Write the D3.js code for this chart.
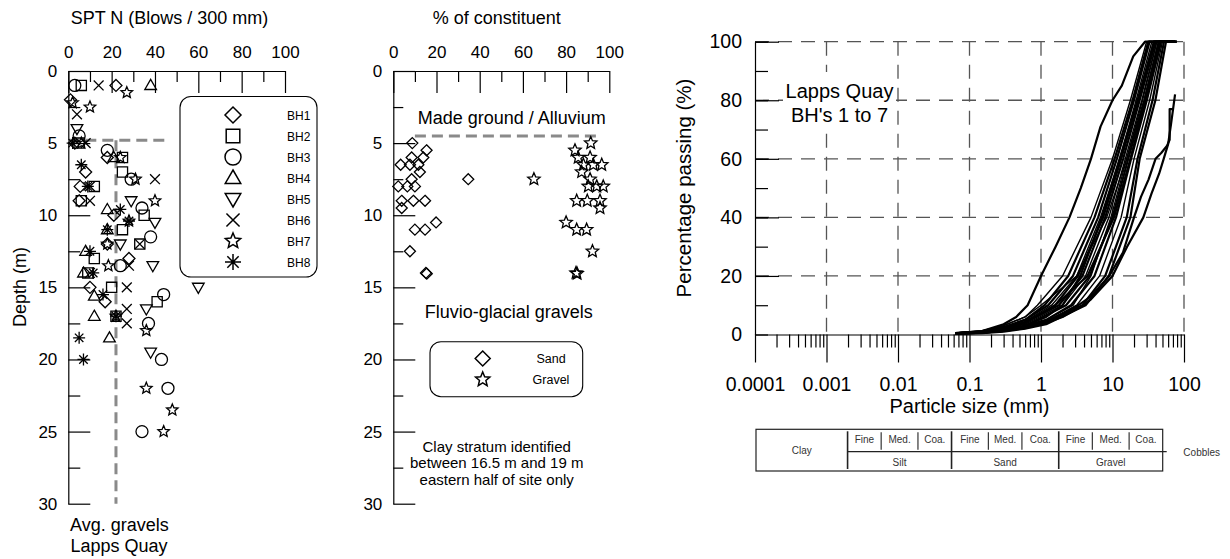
<!DOCTYPE html>
<html><head><meta charset="utf-8">
<script src="https://cdn.jsdelivr.net/npm/d3@7"></script>
<style>
body{margin:0;background:#fff}
svg{display:block}
text{font-family:"Liberation Sans",Arial,Helvetica,sans-serif;fill:#000}
</style>
</head><body>
<svg id="c" width="1230" height="559"></svg>
<script>
// ---------------- DATA ----------------
// Left panel: SPT N vs depth, [N, depth m]
const bhNames = ["BH1","BH2","BH3","BH4","BH5","BH6","BH7","BH8"];
const bh1 = [[22,1],[1,2],[3,5],[18,6],[8,7],[5.5,8],[5,9],[21,10],[18,12],[28,13],[10,15],[17,16]];
const bh2 = [[6,1],[5,5],[25,6],[25,7],[12,8],[6,9],[35,10],[25,11],[33,12],[12,13],[9,14],[20,15],[41,16],[22,17]];
const bh3 = [[3,1],[5,4.5],[18,5.5],[29,7.5],[34,9.5],[38,11.5],[24,13.5],[44,15.5],[37,17.5],[43,20],[46,22],[34,25]];
const bh4 = [[38,1],[21,6],[18,9.6],[18,11],[8,12.5],[7,14],[12,15.6],[12,17],[19,18.5]];
const bh5 = [[4,4],[29,9],[40,10.5],[24,12],[39,13.5],[60,15],[36,16.5],[38,19.5]];
const bh6 = [[14,1],[4,3],[8,5],[40,7.5],[10,8],[10,9],[33,12],[28,13.5],[10,14],[27,15],[27,16.5],[27,17.5]];
const bh7 = [[27,1.5],[2,2.2],[10,2.5],[6,5],[24,6],[31,7.5],[40,9],[28,10.4],[18,12],[18.5,13.5],[22,17],[36,18],[36,22],[48,23.5],[44,25]];
const bh8 = [[2,5],[6,6.5],[9,8],[24,9.6],[28,10.4],[18,11],[10,12.5],[11.5,14],[16,15.5],[22,17],[5,18.5],[7,20]];
const avgGravelN = 22;          // average SPT N in gravels
const avgTopDepthLeft = 4.8;    // top of gravels (left panel)
const avgTopDepthMid = 4.5;     // top of gravels (middle panel)

// Middle panel: % of constituent vs depth, [%, depth m]
const sand = [[8.8,5],[15.4,5.5],[8.5,6],[13.9,6],[3.4,6.5],[7.7,6.5],[11.6,6.5],[12.3,7],[8.5,7.5],[34.7,7.5],
  [2.3,8],[6.5,8],[10,8],[3.9,9],[9.3,9],[14.7,9],[3.9,9.5],[19.8,10.5],[10,11],[14.7,11],[7.7,12.5],[15.1,14],[15.5,14.05]];
const gravel = [[91.4,5],[84.1,5.5],[85.6,6],[91.1,6],[88,6.5],[92.6,6.5],[96.5,6.5],[87.2,7],[91.1,7.5],[65.1,7.5],
  [90.3,8],[94.2,8],[97.2,8],[84.9,9],[89.8,9],[95.7,9],[95.7,9.5],[80,10.5],[84.9,11],[89.5,11],[92.2,12.5],[84.6,14],[85.1,14.05]];
const midLegend = ["Sand","Gravel"];

// Right panel: grading curves, [particle size mm, % passing]
const curveA = [[0.063,0.5],[0.15,1.2],[0.3,3.5],[0.45,6],[0.65,10],[1.0,20],[1.6,30],[2.5,40],[3.6,50],[5.0,60],[6.8,71],[10,80],[13.5,85],[19.5,95],[28.5,100],[63,100]];
const g1  = [[0.063,0.5],[0.15,1.2],[0.3,3],[0.6,6],[0.89,10],[2.0,20],[5.0,40],[10,60],[17.8,80],[30,100],[63,100]];
const g2  = [[0.063,0.5],[0.15,1],[0.3,2.5],[0.6,5],[1.12,10],[2.4,20],[5.6,40],[10.7,60],[19.1,80],[31.6,100],[63,100]];
const g3  = [[0.063,0.4],[0.15,1],[0.3,2.5],[0.6,5],[1.26,10],[2.8,20],[6.3,40],[11.5,60],[20,80],[33,100],[70,100]];
const g4  = [[0.063,0.4],[0.15,0.9],[0.3,2],[0.6,4.5],[1.41,10],[3.16,20],[6.8,40],[12.6,60],[21.4,80],[35.5,100],[70,100]];
const g5  = [[0.063,0.4],[0.15,0.9],[0.3,2],[0.6,4],[1.58,10],[3.3,20],[7.4,40],[13.2,60],[22.9,80],[38,100],[70,100]];
const g6  = [[0.063,0.4],[0.15,0.8],[0.3,2],[0.6,4],[1.78,10],[3.8,20],[7.9,40],[14.1,60],[24,80],[40,100],[75,100]];
const g7  = [[0.063,0.3],[0.15,0.8],[0.3,1.8],[0.6,3.5],[2.0,10],[4.2,20],[8.9,40],[15.1,60],[25.7,80],[41.7,100],[75,100]];
const g8  = [[0.063,0.3],[0.15,0.7],[0.3,1.5],[0.6,3],[2.24,10],[4.8,20],[10,40],[16.6,60],[28.2,80],[44.7,100],[75,100]];
const g9  = [[0.063,0.3],[0.15,0.7],[0.3,1.5],[0.6,3],[1.18,5],[2.63,10],[5.6,20],[11.2,40],[18.2,60],[30.2,80],[47.9,100],[79,100]];
const g10 = [[0.063,0.3],[0.15,0.6],[0.3,1.2],[0.6,2.5],[1.18,4.5],[3.16,10],[6.6,20],[13.2,40],[20,60],[33.1,80],[50,100],[79,100]];
const g11 = [[0.063,0.3],[0.15,0.6],[0.3,1.2],[0.6,2.5],[1.18,4],[3.8,10],[7.9,20],[15.8,40],[22.4,60],[36.3,80],[52.5,100],[79,100]];
const g12 = [[0.063,0.2],[0.15,0.5],[0.3,1],[0.6,2],[1.18,3.5],[4.2,10],[8.9,20],[17.8,40],[24,60],[39.8,80],[56,100],[79,100]];
const g13 = [[0.063,0.5],[0.15,1.3],[0.3,3],[0.6,6],[1.0,10],[3.16,20],[8.3,40],[15.8,60],[26.3,80],[41.7,100],[70,100]];
const g14 = [[0.063,0.3],[0.15,0.7],[0.3,1.5],[0.6,3],[1.18,6],[2.0,10],[3.55,20],[7.1,40],[12.6,60],[22.4,80],[38,100],[70,100]];
const g15 = [[0.063,0.4],[0.15,0.9],[0.3,2],[0.6,4],[1.58,10],[4.47,20],[10.5,40],[17.8,60],[28.8,80],[45.7,100],[75,100]];
const g16 = [[0.063,0.3],[0.15,0.6],[0.3,1.2],[0.6,2.5],[1.18,5],[2.82,10],[5.0,20],[9.5,40],[15.8,60],[27.5,80],[43.7,100],[75,100]];
const curveB = [[0.063,0.3],[0.15,0.6],[0.3,1.2],[0.6,2.5],[1.18,4.5],[2,7],[3.35,10],[5,13],[9,20],[14,28],[20,40],[25,47],[32,53],[40,60],[48,62],[58,64.5],[63,66.5],[63,77],[72,77]];
const curveC = [[0.063,0.3],[0.15,0.6],[0.3,1.2],[0.6,2.2],[1.18,4],[2,6],[3.35,9],[5,12],[10,20],[16,30],[27,40],[35,48],[45,55],[52,60],[60,65],[66,72],[75,82]];
const gradingCurves = [curveA,g1,g2,g3,g4,g5,g6,g7,g8,g9,g10,g11,g12,g13,g14,g15,g16,curveB,curveC];

// Tick labels
const nTicks = [0,20,40,60,80,100];
const nMinor = [10,30,50,70,90];
const depthTicks = [0,5,10,15,20,25,30];
const depthMinor = [2.5,7.5,12.5,17.5,22.5,27.5];
const pctTicks = [0,10,20,30,40,50,60,70,80,90,100];
const sizeTicks = [0.0001,0.001,0.01,0.1,1,10,100];
const sizeTickLabels = ["0.0001","0.001","0.01","0.1","1","10","100"];

// Soil classification (BS) boundaries in mm
const classBounds = [0.0001,0.002,0.006,0.02,0.06,0.2,0.6,2,6,20,60];
const mainClasses = ["Silt","Sand","Gravel"];
const subClasses = ["Fine","Med.","Coa."];

// ---------------- DRAWING ----------------
const svg = d3.select("#c");
const FONT = "Liberation Sans, Arial, sans-serif";

function sym(type, r){
  switch(type){
    case "diamond": return `M0,${-r}L${r},0L0,${r}L${-r},0Z`;
    case "square": {const s=r*0.85; return `M${-s},${-s}H${s}V${s}H${-s}Z`;}
    case "circle": return `M${r},0A${r},${r},0,1,1,${-r},0A${r},${r},0,1,1,${r},0`;
    case "triUp": return `M0,${-r}L${r*0.97},${r*0.68}L${-r*0.97},${r*0.68}Z`;
    case "triDown": return `M0,${r}L${r*0.97},${-r*0.68}L${-r*0.97},${-r*0.68}Z`;
    case "cross": {const s=r*0.82; return `M${-s},${-s}L${s},${s}M${-s},${s}L${s},${-s}`;}
    case "star": {let p=""; for(let i=0;i<10;i++){const a=-Math.PI/2+i*Math.PI/5; const rr=i%2?r*0.45:r; p+=(i?"L":"M")+(rr*Math.cos(a)).toFixed(2)+","+(rr*Math.sin(a)).toFixed(2);} return p+"Z";}
    case "asterisk": {let p=""; for(let i=0;i<4;i++){const a=i*Math.PI/4; const c=r*Math.cos(a), s=r*Math.sin(a); p+=`M${c.toFixed(2)},${s.toFixed(2)}L${(-c).toFixed(2)},${(-s).toFixed(2)}`;} return p;}
  }
}
const bhSym = ["diamond","square","circle","triUp","triDown","cross","star","asterisk"];
const bhData = [bh1,bh2,bh3,bh4,bh5,bh6,bh7,bh8];

function cleanAxis(g, fs){
  g.selectAll("text").style("font-size",(fs||17)+"px").style("font-family",FONT).attr("fill","#000");
  g.selectAll("line").attr("stroke","#000").attr("stroke-width",1.2);
  g.select(".domain").attr("stroke","#000").attr("stroke-width",1.2);
}

const yD = d3.scaleLinear([0,30],[71,503.7]);

function depthAxes(xScale, minorLenY){
  const x0 = xScale(0);
  const gt = svg.append("g").attr("transform",`translate(0,${yD(0)})`)
    .call(d3.axisTop(xScale).tickValues(nTicks).tickSizeInner(-22).tickSizeOuter(0).tickPadding(13).tickFormat(d3.format("d")));
  cleanAxis(gt);
  const gtm = svg.append("g").attr("transform",`translate(0,${yD(0)})`)
    .call(d3.axisTop(xScale).tickValues(nMinor).tickSizeInner(-11).tickSizeOuter(0).tickFormat(""));
  cleanAxis(gtm); gtm.select(".domain").remove();
  const gl = svg.append("g").attr("transform",`translate(${x0},0)`)
    .call(d3.axisLeft(yD).tickValues(depthTicks).tickSizeInner(-22).tickSizeOuter(0).tickPadding(11).tickFormat(d3.format("d")));
  cleanAxis(gl);
  const glm = svg.append("g").attr("transform",`translate(${x0},0)`)
    .call(d3.axisLeft(yD).tickValues(depthMinor).tickSizeInner(-minorLenY).tickSizeOuter(0).tickFormat(""));
  cleanAxis(glm); glm.select(".domain").remove();
}

// ===== Left panel =====
const xN = d3.scaleLinear([0,100],[68.3,285]);
depthAxes(xN, 12);

svg.append("text").attr("x",169.5).attr("y",24).attr("text-anchor","middle").style("font-size","18px").text("SPT N (Blows / 300 mm)");
svg.append("text").attr("transform","translate(26,287) rotate(-90)").attr("text-anchor","middle").style("font-size","18px").text("Depth (m)");
svg.append("text").attr("x",70).attr("y",531).style("font-size","18px").text("Avg. gravels");
svg.append("text").attr("x",70.5).attr("y",552).style("font-size","18px").text("Lapps Quay");

const avgStyle = sel => sel.attr("stroke","#8a8a8a").attr("stroke-width",3).attr("stroke-dasharray","11,6").attr("fill","none");
svg.append("line").attr("x1",xN(0)).attr("x2",xN(46)).attr("y1",yD(avgTopDepthLeft)).attr("y2",yD(avgTopDepthLeft)).call(avgStyle);
svg.append("line").attr("x1",xN(avgGravelN)).attr("x2",xN(avgGravelN)).attr("y1",yD(avgTopDepthLeft)).attr("y2",yD(30)).call(avgStyle);

bhData.forEach((arr,i)=>{
  svg.append("g").selectAll("path").data(arr).join("path")
    .attr("transform",d=>`translate(${xN(d[0])},${yD(d[1])})`)
    .attr("d",sym(bhSym[i],6)).attr("fill","none").attr("stroke","#000").attr("stroke-width",1.3);
});

svg.append("rect").attr("x",180).attr("y",96.5).attr("width",137).attr("height",180.5).attr("rx",11).attr("ry",11)
  .attr("fill","#fff").attr("stroke","#000").attr("stroke-width",1.1);
const legY = d3.scalePoint(bhNames,[115,262]);
bhNames.forEach((n,i)=>{
  svg.append("path").attr("transform",`translate(233,${legY(n)})`).attr("d",sym(bhSym[i],8))
    .attr("fill","none").attr("stroke","#000").attr("stroke-width",1.5);
  svg.append("text").attr("x",287).attr("y",legY(n)+4.5).style("font-size","12px").text(n);
});

// ===== Middle panel =====
const xP = d3.scaleLinear([0,100],[393.3,609.3]);
depthAxes(xP, 10);
svg.append("text").attr("x",496.7).attr("y",24).attr("text-anchor","middle").style("font-size","18px").text("% of constituent");
svg.append("text").attr("x",511.7).attr("y",124).attr("text-anchor","middle").style("font-size","18px").text("Made ground / Alluvium");
svg.append("line").attr("x1",xP(10)).attr("x2",xP(94)).attr("y1",yD(avgTopDepthMid)).attr("y2",yD(avgTopDepthMid)).call(avgStyle);
svg.append("text").attr("x",508.7).attr("y",318).attr("text-anchor","middle").style("font-size","18px").text("Fluvio-glacial gravels");

svg.append("g").selectAll("path").data(sand).join("path")
  .attr("transform",d=>`translate(${xP(d[0])},${yD(d[1])})`).attr("d",sym("diamond",5.5))
  .attr("fill","none").attr("stroke","#000").attr("stroke-width",1.3);
svg.append("g").selectAll("path").data(gravel).join("path")
  .attr("transform",d=>`translate(${xP(d[0])},${yD(d[1])})`).attr("d",sym("star",6.5))
  .attr("fill","none").attr("stroke","#000").attr("stroke-width",1.3);

svg.append("rect").attr("x",430).attr("y",341.7).attr("width",152.7).attr("height",55).attr("rx",11).attr("ry",11)
  .attr("fill","#fff").attr("stroke","#000").attr("stroke-width",1.1);
const midSym = ["diamond","star"];
const midLegY = d3.scalePoint(midLegend,[358.5,379.5]);
midLegend.forEach((n,i)=>{
  svg.append("path").attr("transform",`translate(482.7,${midLegY(n)})`).attr("d",sym(midSym[i],7.5))
    .attr("fill","none").attr("stroke","#000").attr("stroke-width",1.5);
  svg.append("text").attr("x",551).attr("y",midLegY(n)+4.5).attr("text-anchor","middle").style("font-size","12.5px").text(n);
});
["Clay stratum identified","between 16.5 m and 19 m","eastern half of site only"].forEach((t,i)=>{
  svg.append("text").attr("x",496.7).attr("y",451.5+i*16.6).attr("text-anchor","middle").style("font-size","15px").text(t);
});

// ===== Right panel =====
const xS = d3.scaleLog([0.0001,100],[755,1184]);
const yP = d3.scaleLinear([0,100],[334.5,41.7]);

const gridStyle = sel => sel.attr("stroke","#555").attr("stroke-width",1.3).attr("stroke-dasharray","14,9").attr("fill","none");
svg.append("g").selectAll("line").data([20,40,60,80,100]).join("line")
  .attr("x1",xS(0.0001)).attr("x2",xS(100)).attr("y1",d=>yP(d)).attr("y2",d=>yP(d)).call(gridStyle);
svg.append("g").selectAll("line").data(sizeTicks.slice(1)).join("line")
  .attr("x1",d=>xS(d)).attr("x2",d=>xS(d)).attr("y1",yP(100)).attr("y2",yP(0)).call(gridStyle);

const gy = svg.append("g").attr("transform",`translate(${xS(0.0001)},0)`)
  .call(d3.axisLeft(yP).tickValues(pctTicks).tickSizeInner(-13).tickSizeOuter(0).tickPadding(13)
    .tickFormat(d=> d%20===0 ? d3.format("d")(d) : ""));
cleanAxis(gy, 19.5);
const gyM = svg.append("g").attr("transform",`translate(${xS(0.0001)},0)`)
  .call(d3.axisLeft(yP).tickValues([20,40,60,80,100]).tickSizeInner(-24).tickSizeOuter(0).tickFormat(""));
cleanAxis(gyM); gyM.select(".domain").remove();

const gx = svg.append("g").attr("transform",`translate(0,${yP(0)})`)
  .call(d3.axisBottom(xS).tickValues(sizeTicks).tickSizeInner(28).tickSizeOuter(0).tickPadding(15)
    .tickFormat((d,i)=>sizeTickLabels[i]));
cleanAxis(gx, 19.5);
const minorS = xS.ticks().filter(v=>!sizeTicks.some(t=>Math.abs(t-v)/t<1e-6));
const gxm = svg.append("g").attr("transform",`translate(0,${yP(0)})`)
  .call(d3.axisBottom(xS).tickValues(minorS).tickSizeInner(13).tickSizeOuter(0).tickFormat(""));
cleanAxis(gxm); gxm.select(".domain").remove();

svg.append("text").attr("transform","translate(691,188) rotate(-90)").attr("text-anchor","middle").style("font-size","20.5px").text("Percentage passing (%)");
svg.append("text").attr("x",969.5).attr("y",413).attr("text-anchor","middle").style("font-size","20px").text("Particle size (mm)");

const line = d3.line().x(d=>xS(d[0])).y(d=>yP(d[1]));
svg.append("g").selectAll("path").data(gradingCurves).join("path")
  .attr("d",line).attr("fill","none").attr("stroke","#000").attr("stroke-width",(d,i)=> i%3===1 ? 1.4 : 2.2)
  .attr("stroke-linejoin","round");

svg.append("rect").attr("x",783).attr("y",72).attr("width",113).attr("height",56).attr("fill","#fff");
svg.append("text").attr("x",839.5).attr("y",98).attr("text-anchor","middle").style("font-size","20px").text("Lapps Quay");
svg.append("text").attr("x",839.5).attr("y",121.5).attr("text-anchor","middle").style("font-size","20px").text("BH's 1 to 7");

// classification table
const xT = d3.scaleLog([0.0001,60],[756,1162.7]);
const tTop = 429.3, tMid = 451.7, tBot = 471;
const tbl = svg.append("g").attr("stroke","#222").attr("fill","none");
tbl.append("rect").attr("x",xT(0.0001)).attr("y",tTop).attr("width",xT(60)-xT(0.0001)).attr("height",tBot-tTop).attr("stroke-width",1.2);
tbl.append("line").attr("x1",xT(0.002)).attr("x2",xT(60)+4).attr("y1",tMid).attr("y2",tMid).attr("stroke-width",1.2);
[0.002,0.06,2].forEach(b=>tbl.append("line").attr("x1",xT(b)).attr("x2",xT(b)).attr("y1",tTop+2).attr("y2",tBot-2).attr("stroke-width",1.6));
[0.006,0.02,0.2,0.6,6,20].forEach(b=>tbl.append("line").attr("x1",xT(b)).attr("x2",xT(b)).attr("y1",tTop+3).attr("y2",tMid-2).attr("stroke-width",1.1));
const gm = (a,b)=>xT(Math.sqrt(a*b));
const tText = (x,y,t)=>svg.append("text").attr("x",x).attr("y",y).attr("text-anchor","middle").style("font-size","10px").style("fill","#333").text(t);
tText(gm(0.0001,0.002),453.5,"Clay");
for(let k=0;k<3;k++){
  const base = 1+k*3;
  subClasses.forEach((s,j)=>{
    const lo = classBounds[base+j], hi = classBounds[base+j+1];
    tText(gm(lo,hi), 443, s);
  });
  tText(gm(classBounds[base],classBounds[base+3]), 465.5, mainClasses[k]);
}
tText(1201.7,456,"Cobbles");
</script></body></html>
